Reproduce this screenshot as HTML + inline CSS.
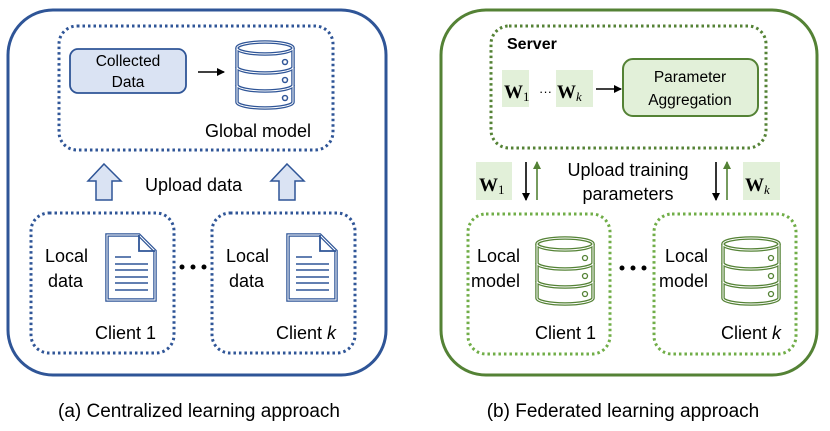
<!DOCTYPE html>
<html><head><meta charset="utf-8"><style>
body{margin:0;background:#fff}
svg text{font-family:"Liberation Sans",sans-serif}
</style></head><body>
<svg width="830" height="426" viewBox="0 0 830 426" xmlns="http://www.w3.org/2000/svg">
<defs>
<g id="db">
 <path d="M0,8 V62 A28,6 0 0 0 56,62 V8" fill="none" stroke="C" stroke-width="3.5"/>
 <ellipse cx="28" cy="8" rx="28" ry="6" fill="none" stroke="C" stroke-width="3.5"/>
 <path d="M0,27 A28,6 0 0 0 56,27 M0,45 A28,6 0 0 0 56,45" fill="none" stroke="C" stroke-width="3.5"/>
 <path d="M0,8 V62 A28,6 0 0 0 56,62 V8" fill="none" stroke="#fff" stroke-width="1"/>
 <ellipse cx="28" cy="8" rx="28" ry="6" fill="none" stroke="#fff" stroke-width="1"/>
 <path d="M0,27 A28,6 0 0 0 56,27 M0,45 A28,6 0 0 0 56,45" fill="none" stroke="#fff" stroke-width="1"/>
 <circle cx="48" cy="22" r="2.5" fill="none" stroke="C" stroke-width="1.3"/>
 <circle cx="48" cy="40" r="2.5" fill="none" stroke="C" stroke-width="1.3"/>
 <circle cx="48" cy="58" r="2.5" fill="none" stroke="C" stroke-width="1.3"/>
</g>
<g id="doc" stroke="#2F5597" fill="none">
 <path d="M0,0 H32 L48,16 V65 H0 Z" fill="#fff" stroke-width="3.5"/>
 <path d="M0,0 H32 L48,16 V65 H0 Z" stroke="#fff" stroke-width="1"/>
 <path d="M32,0 V16 H48" stroke-width="1.8"/>
 <path d="M8,22 H24 M8,29 H41 M8,35 H41 M8,42 H41 M8,48 H41 M8,55 H41" stroke-width="1.6"/>
</g>
<marker id="ab" markerWidth="8" markerHeight="8" refX="7" refY="4" orient="auto" markerUnits="userSpaceOnUse"><path d="M0,0 L8,4 L0,8 Z" fill="#000"/></marker>
<marker id="ag" markerWidth="8" markerHeight="8" refX="7" refY="4" orient="auto" markerUnits="userSpaceOnUse"><path d="M0,0 L8,4 L0,8 Z" fill="#548235"/></marker>
</defs>

<!-- LEFT -->
<rect x="8" y="10" width="378" height="365" rx="45" fill="none" stroke="#2F5597" stroke-width="3"/>
<rect x="59" y="26" width="274" height="124" rx="18" fill="none" stroke="#2F5597" stroke-width="3" stroke-dasharray="2.5 3"/>
<rect x="70" y="49" width="116" height="44" rx="8" fill="#DAE3F3" stroke="#2F5597" stroke-width="1.8"/>
<text x="128" y="66" font-size="15.5" text-anchor="middle">Collected</text>
<text x="128" y="87" font-size="15.5" text-anchor="middle">Data</text>
<line x1="198" y1="72" x2="224" y2="72" stroke="#000" stroke-width="1.6" marker-end="url(#ab)"/>
<use href="#db" x="237" y="40" style="stroke:#2F5597"/>
<g transform="translate(237,40)" fill="none" stroke="#2F5597" stroke-width="1.3">
<circle cx="48" cy="22" r="2.5"/><circle cx="48" cy="40" r="2.5"/><circle cx="48" cy="58" r="2.5"/></g>
<text x="205" y="137" font-size="18">Global model</text>
<path d="M104,164 L121,181 H112 V200 H96 V181 H88 Z" fill="#DAE3F3" stroke="#2F5597" stroke-width="1.5"/>
<path d="M287,164 L304,181 H295 V200 H279 V181 H271 Z" fill="#DAE3F3" stroke="#2F5597" stroke-width="1.5"/>
<text x="145" y="191" font-size="18">Upload data</text>
<rect x="31" y="213" width="143" height="140" rx="18" fill="none" stroke="#2F5597" stroke-width="3" stroke-dasharray="2.5 3"/>
<rect x="212" y="213" width="143" height="140" rx="18" fill="none" stroke="#2F5597" stroke-width="3" stroke-dasharray="2.5 3"/>
<use href="#doc" x="107" y="235"/>
<use href="#doc" x="288" y="235"/>
<text x="45" y="262" font-size="18">Local</text><text x="48" y="287" font-size="18">data</text>
<text x="226" y="262" font-size="18">Local</text><text x="229" y="287" font-size="18">data</text>
<text x="95" y="339" font-size="18">Client 1</text>
<text x="276" y="339" font-size="18">Client <tspan font-style="italic">k</tspan></text>
<g fill="#000"><circle cx="182" cy="267" r="2.5"/><circle cx="193" cy="267" r="2.5"/><circle cx="204" cy="267" r="2.5"/></g>
<text x="199" y="417" font-size="19" text-anchor="middle">(a) Centralized learning approach</text>

<!-- RIGHT -->
<rect x="441" y="10" width="376" height="365" rx="45" fill="none" stroke="#548235" stroke-width="3"/>
<rect x="491" y="26" width="275" height="122" rx="18" fill="none" stroke="#548235" stroke-width="3" stroke-dasharray="2.5 3"/>
<text x="507" y="49" font-size="16" font-weight="bold">Server</text>
<rect x="502" y="70" width="27" height="37" fill="#E2F0D9"/>
<rect x="556" y="70" width="37" height="37" fill="#E2F0D9"/>
<text x="504" y="98" font-size="19" font-weight="bold" style="font-family:'Liberation Serif',serif">W<tspan font-size="13" font-weight="normal" dy="3">1</tspan></text>
<text x="539" y="96" font-size="13">···</text>
<text x="557" y="98" font-size="19" font-weight="bold" style="font-family:'Liberation Serif',serif">W<tspan font-size="13" font-weight="normal" font-style="italic" dy="3">k</tspan></text>
<line x1="596" y1="89" x2="621" y2="89" stroke="#000" stroke-width="1.6" marker-end="url(#ab)"/>
<rect x="623" y="59" width="135" height="57" rx="10" fill="#E2F0D9" stroke="#548235" stroke-width="2"/>
<text x="690" y="82" font-size="15.5" text-anchor="middle">Parameter</text>
<text x="690" y="105" font-size="15.5" text-anchor="middle">Aggregation</text>
<rect x="476" y="162" width="36" height="38" fill="#E2F0D9"/>
<text x="479" y="191" font-size="19" font-weight="bold" style="font-family:'Liberation Serif',serif">W<tspan font-size="13" font-weight="normal" dy="3">1</tspan></text>
<rect x="743" y="162" width="37" height="38" fill="#E2F0D9"/>
<text x="745" y="191" font-size="19" font-weight="bold" style="font-family:'Liberation Serif',serif">W<tspan font-size="13" font-weight="normal" font-style="italic" dy="3">k</tspan></text>
<line x1="526" y1="162" x2="526" y2="200" stroke="#000" stroke-width="1.6" marker-end="url(#ab)"/>
<line x1="537" y1="200" x2="537" y2="162" stroke="#548235" stroke-width="1.6" marker-end="url(#ag)"/>
<line x1="716" y1="162" x2="716" y2="200" stroke="#000" stroke-width="1.6" marker-end="url(#ab)"/>
<line x1="727" y1="200" x2="727" y2="162" stroke="#548235" stroke-width="1.6" marker-end="url(#ag)"/>
<text x="628" y="176" font-size="18" text-anchor="middle">Upload training</text>
<text x="628" y="200" font-size="18" text-anchor="middle">parameters</text>
<rect x="468" y="214" width="142" height="140" rx="18" fill="none" stroke="#70AD47" stroke-width="3" stroke-dasharray="2.5 3"/>
<rect x="654" y="214" width="142" height="140" rx="18" fill="none" stroke="#70AD47" stroke-width="3" stroke-dasharray="2.5 3"/>
<use href="#db" x="537" y="236" style="stroke:#548235"/>
<use href="#db" x="723" y="236" style="stroke:#548235"/>
<text x="477" y="262" font-size="18">Local</text><text x="471" y="287" font-size="18">model</text>
<text x="665" y="262" font-size="18">Local</text><text x="659" y="287" font-size="18">model</text>
<text x="535" y="339" font-size="18">Client 1</text>
<text x="721" y="339" font-size="18">Client <tspan font-style="italic">k</tspan></text>
<g fill="#000"><circle cx="622" cy="268" r="2.5"/><circle cx="633" cy="268" r="2.5"/><circle cx="644" cy="268" r="2.5"/></g>
<text x="623" y="417" font-size="19" text-anchor="middle">(b) Federated learning approach</text>
</svg>
</body></html>
